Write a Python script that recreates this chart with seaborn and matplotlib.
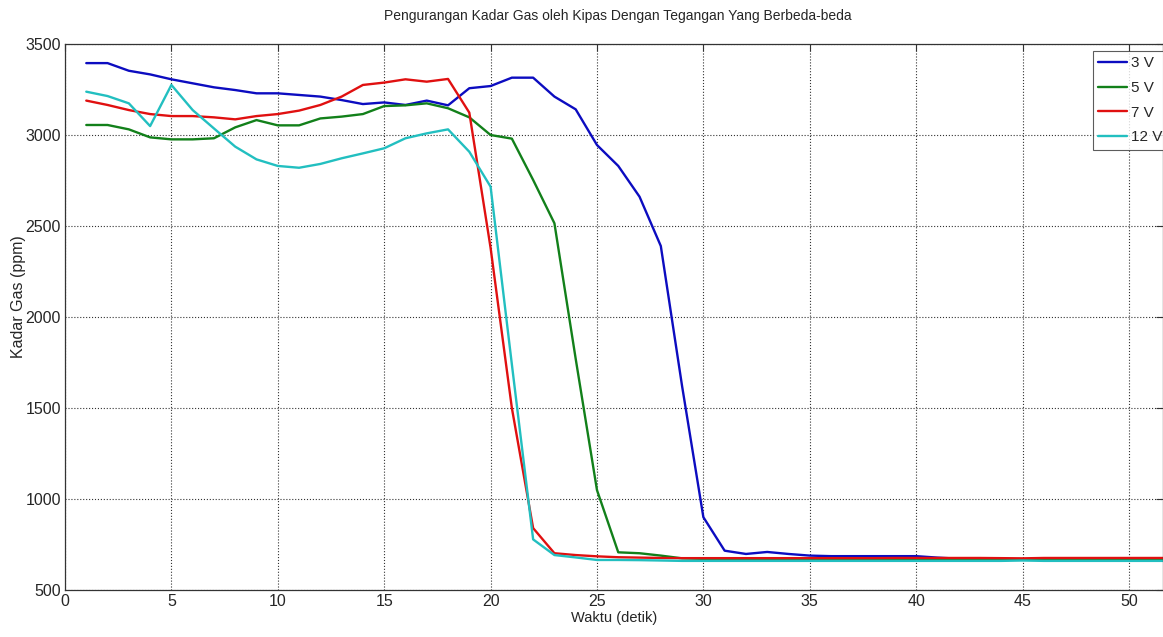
import numpy as np
import pandas as pd
import matplotlib
matplotlib.use('Agg')
import matplotlib.pyplot as plt
import seaborn as sns

# waktu (detik)
waktu = list(range(1, 53))

# kadar gas (ppm) per tegangan kipas
gas_3v = [3395, 3395, 3353, 3333, 3306, 3284, 3262, 3247, 3229, 3229,
          3220, 3211, 3192, 3170, 3179, 3165, 3189, 3163, 3257, 3269,
          3315, 3315, 3211, 3141, 2945, 2830, 2661, 2390, 1620, 900,
          716, 698, 709, 698, 689, 686, 686, 686, 686, 686,
          678, 672, 670, 668, 668, 668, 668, 668, 668, 668,
          668, 668]
gas_5v = [3055, 3055, 3031, 2987, 2976, 2976, 2982, 3042, 3082, 3053,
          3053, 3091, 3101, 3115, 3159, 3163, 3174, 3147, 3097, 3000,
          2980, 2753, 2515, 1770, 1049, 707, 702, 689, 674, 671,
          670, 670, 670, 670, 670, 670, 670, 670, 669, 669,
          669, 669, 668, 668, 668, 668, 668, 668, 668, 668,
          668, 668]
gas_7v = [3189, 3165, 3137, 3115, 3104, 3104, 3097, 3086, 3104, 3115,
          3134, 3165, 3211, 3275, 3288, 3306, 3293, 3308, 3123, 2380,
          1500, 840, 702, 692, 685, 680, 678, 676, 675, 675,
          675, 675, 675, 675, 675, 675, 675, 675, 676, 676,
          676, 676, 676, 675, 674, 676, 676, 676, 676, 676,
          676, 676]
gas_12v = [3238, 3214, 3174, 3049, 3275, 3137, 3036, 2936, 2866, 2830,
           2820, 2841, 2872, 2899, 2927, 2982, 3009, 3031, 2908, 2716,
           1740, 778, 692, 679, 665, 665, 664, 662, 660, 660,
           660, 660, 660, 660, 660, 660, 660, 660, 660, 660,
           660, 660, 660, 660, 662, 660, 660, 660, 660, 660,
           660, 660]

labels = ['3 V', '5 V', '7 V', '12 V']
colors = ['#0c0cc0', '#12801a', '#e01010', '#22bfc0']

df = pd.concat([
    pd.DataFrame({'Waktu': waktu, 'Gas': vals, 'Tegangan': lab})
    for vals, lab in zip([gas_3v, gas_5v, gas_7v, gas_12v], labels)
])

sns.set_style('white')
plt.rcParams['font.family'] = ['Liberation Sans', 'DejaVu Sans']

fig = plt.figure(figsize=(11.63, 6.37), dpi=100)
ax = fig.add_axes([65 / 1163, 1 - 590 / 637, 1 - 65 / 1163, (590 - 44) / 637])

sns.lineplot(data=df, x='Waktu', y='Gas', hue='Tegangan', hue_order=labels,
             palette=colors, linewidth=1.7, ax=ax, legend=True)

ax.set_xlim(0, 51.6)
ax.set_ylim(500, 3500)
ax.set_xticks(np.arange(0, 55, 5))
ax.set_yticks(np.arange(500, 3501, 500))
ax.grid(True, linestyle=':', color='#333333', linewidth=0.8)
ax.tick_params(direction='in', length=5, width=0.8, color='#333333',
               top=True, right=True, labelsize=11.5, pad=3)
for s in ax.spines.values():
    s.set_color('#333333')
    s.set_linewidth(0.9)

fig.text(618 / 1163, 1 - 16 / 637,
         'Pengurangan Kadar Gas oleh Kipas Dengan Tegangan Yang Berbeda-beda',
         fontsize=10, ha='center', va='center')
ax.set_xlabel('Waktu (detik)', fontsize=10.5, labelpad=1)
ax.set_ylabel('Kadar Gas (ppm)', fontsize=11.5)
ax.yaxis.set_label_coords((26 - 65) / 1098, (590 - 297) / 546)

leg = ax.legend(loc='upper left', bbox_to_anchor=((1093 - 65) / 1098, (590 - 51) / 546),
                fontsize=11, frameon=True, fancybox=False, edgecolor='#333333',
                handlelength=1.9, handletextpad=0.25, borderpad=0.35,
                labelspacing=0.7, borderaxespad=0.0)
leg.get_frame().set_linewidth(0.8)

plt.savefig('out.png', dpi=100)
plt.close()
